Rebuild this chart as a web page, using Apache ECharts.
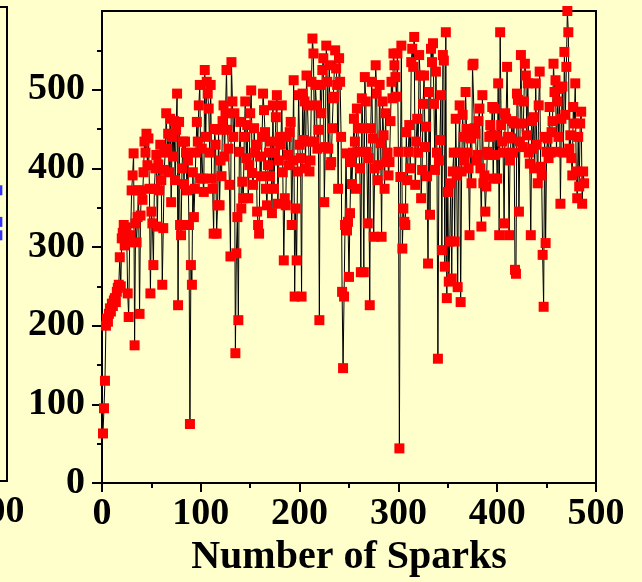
<!DOCTYPE html>
<html>
<head>
<meta charset="utf-8">
<script src="https://cdn.jsdelivr.net/npm/echarts@6/dist/echarts.min.js"></script>
<style>
html,body{margin:0;padding:0;background:#FFFFCC;}
#chart{width:642px;height:582px;}
</style>
</head>
<body>
<div id="chart"></div>
<script>
// Tick labels
const xTickValues = [0, 100, 200, 300, 400, 500];
const yTickValues = [0, 100, 200, 300, 400, 500];
const xAxisTitle = 'Number of Sparks';

// Series values: one value per spark (spark number = position + 1)
const sparkValues = [
  63, 95, 130, 200, 209, 205, 215, 222, 218, 228,
  225, 232, 235, 230, 243, 248, 252, 287, 250, 311,
  318, 328, 302, 325, 315, 241, 211, 306, 315, 372,
  391, 419, 175, 330, 306, 338, 372, 215, 340, 372,
  360, 395, 434, 420, 444, 404, 438, 374, 241, 345,
  330, 277, 374, 400, 417, 326, 405, 372, 430, 385,
  252, 324, 398, 420, 470, 425, 444, 395, 463, 357,
  440, 415, 460, 385, 449, 495, 226, 459, 328, 315,
  400, 434, 380, 434, 420, 372, 410, 328, 75, 277,
  252, 395, 338, 374, 420, 459, 434, 480, 506, 387,
  425, 387, 370, 525, 440, 510, 495, 476, 420, 506,
  387, 374, 317, 450, 430, 317, 353, 449, 353, 410,
  390, 460, 480, 415, 470, 525, 449, 425, 379, 288,
  535, 485, 440, 470, 165, 292, 338, 207, 421, 459,
  349, 383, 362, 440, 485, 413, 455, 362, 404, 470,
  499, 394, 379, 451, 420, 430, 345, 328, 317, 415,
  390, 440, 495, 474, 446, 374, 353, 404, 420, 390,
  434, 343, 480, 374, 420, 465, 493, 355, 410, 440,
  430, 480, 395, 283, 362, 353, 440, 417, 404, 446,
  459, 328, 410, 512, 237, 349, 283, 396, 493, 430,
  413, 237, 495, 436, 485, 400, 518, 480, 434, 396,
  410, 510, 565, 546, 434, 506, 480, 425, 449, 207,
  506, 470, 525, 540, 357, 427, 556, 510, 425, 531,
  404, 408, 451, 489, 491, 550, 527, 506, 374, 540,
  510, 440, 243, 146, 237, 328, 419, 321, 332, 262,
  343, 408, 380, 420, 463, 434, 374, 476, 451, 421,
  400, 268, 489, 451, 268, 516, 485, 421, 330, 413,
  226, 451, 510, 438, 313, 400, 531, 495, 385, 404,
  506, 432, 313, 485, 442, 374, 470, 408, 420, 391,
  408, 460, 510, 489, 546, 531, 516, 491, 546, 421,
  44, 389, 556, 298, 349, 332, 328, 446, 385, 421,
  455, 400, 535, 552, 529, 567, 379, 434, 463, 420,
  544, 518, 362, 398, 482, 518, 427, 453, 390, 279,
  497, 341, 552, 535, 559, 482, 398, 523, 420, 158,
  410, 436, 493, 296, 544, 537, 275, 573, 235, 370,
  256, 307, 381, 260, 396, 420, 307, 463, 391, 249,
  420, 480, 230, 396, 468, 440, 410, 497, 450, 420,
  400, 315, 438, 381, 531, 533, 451, 444, 410, 417,
  460, 476, 400, 326, 493, 381, 391, 345, 377, 421,
  417, 440, 455, 442, 478, 387, 476, 417, 442, 387,
  508, 315, 573, 455, 434, 420, 330, 470, 463, 529,
  440, 315, 410, 438, 460, 420, 457, 271, 266, 495,
  487, 345, 434, 544, 457, 427, 485, 533, 518, 442,
  508, 420, 406, 315, 460, 425, 465, 400, 508, 430,
  381, 480, 523, 402, 391, 290, 224, 440, 305, 421,
  438, 413, 478, 420, 446, 460, 533, 497, 512, 421,
  485, 440, 501, 355, 463, 504, 420, 548, 468, 529,
  600, 573, 425, 442, 413, 391, 478, 457, 508, 396,
  362, 440, 377, 457, 472, 355, 396, 381
];

// Partially visible neighbouring panel (blue points at its right edge)
const leftPanelX = [488, 488, 488];
const leftPanelY = [368, 328, 311];

const FONT = 'Liberation Serif';
const mainData = sparkValues.map((v, i) => [i + 1, v]);
const leftData = leftPanelX.map((x, i) => [x, leftPanelY[i]]);

const chart = echarts.init(document.getElementById('chart'), null, {renderer: 'canvas'});
chart.setOption({
  backgroundColor: '#FFFFCC',
  animation: false,
  grid: [
    {left: 102, right: 46, top: 11, bottom: 99, show: true, borderColor: '#000', borderWidth: 2,
     backgroundColor: 'transparent', containLabel: false, outerBoundsMode: 'none'},
    {left: -395, right: 635, top: 7, bottom: 101, show: true, borderColor: '#000', borderWidth: 2,
     backgroundColor: 'transparent', containLabel: false, outerBoundsMode: 'none'}
  ],
  xAxis: [
    {
      gridIndex: 0, type: 'value', min: 0, max: 500, interval: 100,
      name: xAxisTitle, nameLocation: 'middle', nameGap: 55,
      nameTextStyle: {fontFamily: FONT, fontWeight: 'bold', fontSize: 40, color: '#000'},
      axisLine: {show: true, onZero: false, lineStyle: {color: '#000', width: 2}},
      axisTick: {show: true, length: 9, lineStyle: {color: '#000', width: 2}},
      minorTick: {show: true, splitNumber: 2, length: 5, lineStyle: {color: '#000', width: 2}},
      splitLine: {show: false},
      axisLabel: {
        margin: 12, fontFamily: FONT, fontWeight: 'bold', fontSize: 38, color: '#000',
        customValues: xTickValues
      }
    },
    {
      gridIndex: 1, type: 'value', min: 0, max: 500, interval: 100,
      axisLine: {show: false},
      axisTick: {show: false},
      splitLine: {show: false},
      axisLabel: {
        margin: 12, fontFamily: FONT, fontWeight: 'bold', fontSize: 38, color: '#000',
        customValues: [500],
        formatter: v => '{a|' + v + '}',
        rich: {a: {fontFamily: FONT, fontWeight: 'bold', fontSize: 38, color: '#000', padding: [0, 22, 0, 0]}}
      }
    }
  ],
  yAxis: [
    {
      gridIndex: 0, type: 'value', min: 0, max: 600, interval: 100,
      axisLine: {show: true, onZero: false, lineStyle: {color: '#000', width: 2}},
      axisTick: {show: true, length: 10, lineStyle: {color: '#000', width: 2}, customValues: yTickValues},
      minorTick: {show: true, splitNumber: 2, length: 5, lineStyle: {color: '#000', width: 2}},
      splitLine: {show: false},
      axisLabel: {
        margin: 17, fontFamily: FONT, fontWeight: 'bold', fontSize: 38, color: '#000',
        customValues: yTickValues
      }
    },
    {
      gridIndex: 1, type: 'value', min: 0, max: 600,
      axisLine: {show: false}, axisTick: {show: false}, axisLabel: {show: false}, splitLine: {show: false}
    }
  ],
  series: [
    {
      type: 'line', xAxisIndex: 0, yAxisIndex: 0, data: mainData,
      symbol: 'rect', symbolSize: 10, showSymbol: true, showAllSymbol: true,
      itemStyle: {color: '#FF0000'},
      lineStyle: {color: '#000', width: 1},
      emphasis: {disabled: true}
    },
    {
      type: 'scatter', xAxisIndex: 1, yAxisIndex: 1, data: leftData,
      symbol: 'rect', symbolSize: 10, itemStyle: {color: '#0000FF'}
    }
  ]
});
</script>
</body>
</html>
